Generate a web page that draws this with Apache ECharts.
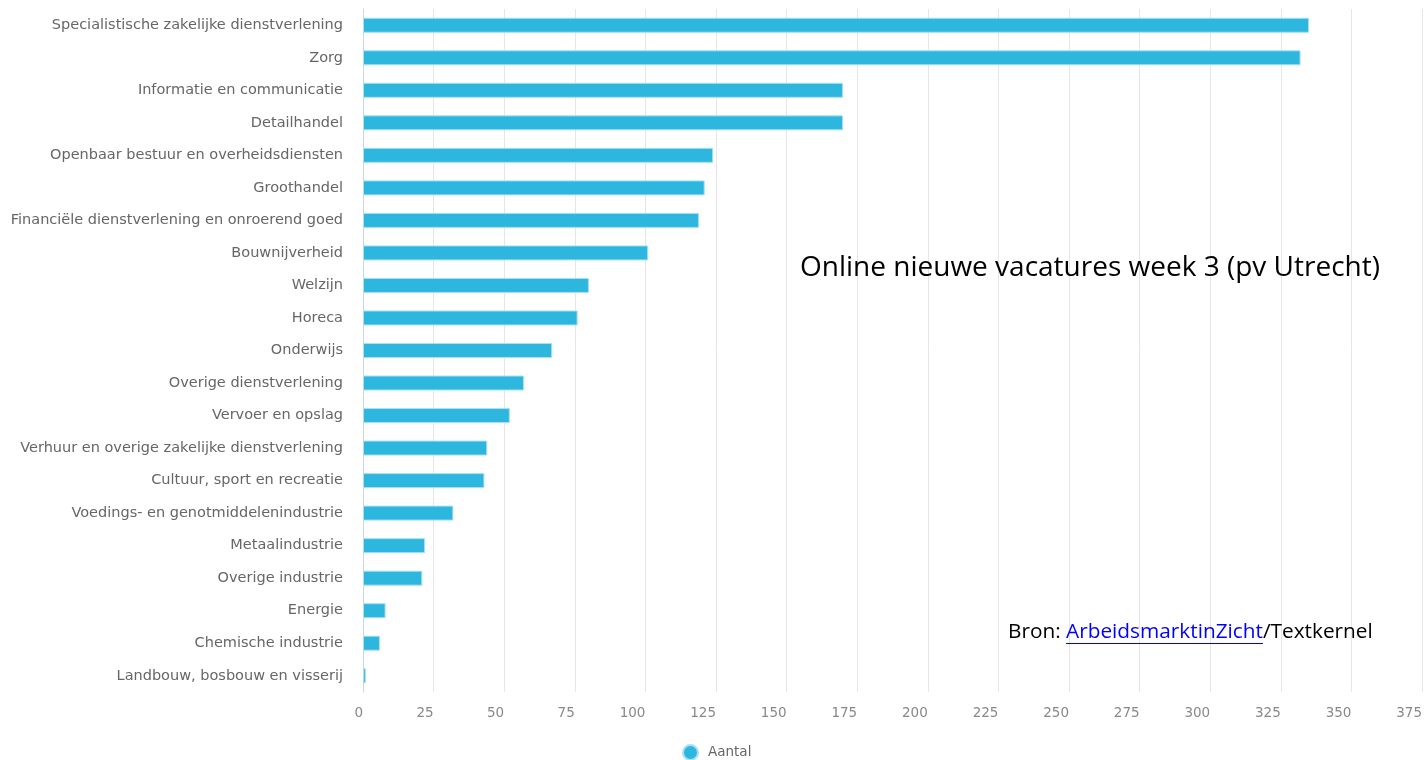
<!DOCTYPE html>
<html>
<head>
<meta charset="utf-8">
<script src="https://cdn.jsdelivr.net/npm/echarts@6/dist/echarts.min.js"></script>
<style>
html,body{margin:0;padding:0;background:#fff;}
#chart{width:1425px;height:760px;}
</style>
</head>
<body>
<div id="chart"></div>
<script>
const categories = [
  "Specialistische zakelijke dienstverlening",
  "Zorg",
  "Informatie en communicatie",
  "Detailhandel",
  "Openbaar bestuur en overheidsdiensten",
  "Groothandel",
  "Financiële dienstverlening en onroerend goed",
  "Bouwnijverheid",
  "Welzijn",
  "Horeca",
  "Onderwijs",
  "Overige dienstverlening",
  "Vervoer en opslag",
  "Verhuur en overige zakelijke dienstverlening",
  "Cultuur, sport en recreatie",
  "Voedings- en genotmiddelenindustrie",
  "Metaalindustrie",
  "Overige industrie",
  "Energie",
  "Chemische industrie",
  "Landbouw, bosbouw en visserij"
];
const aantal = [335, 332, 170, 170, 124, 121, 119, 101, 80, 76, 67, 57, 52, 44, 43, 32, 22, 21, 8, 6, 1];
const seriesName = "Aantal";
const titleText = "Online nieuwe vacatures week 3 (pv Utrecht)";
const sourcePrefix = "Bron: ";
const sourceLink = "ArbeidsmarktinZicht";
const sourceSuffix = "/Textkernel";

const labelFont = "'DejaVu Sans', sans-serif";
const noteFamily = "'Open Sans', 'Noto Sans', sans-serif";
const noteSize = 20.8;
const noteFont = noteSize + "px " + noteFamily;

// measure pieces of the source note for placement
const cv = document.createElement('canvas').getContext('2d');
cv.font = noteFont;
const wPrefix = cv.measureText(sourcePrefix).width;
const wLink = cv.measureText(sourceLink).width;
const srcX = 1008, srcY = 622;

const chart = echarts.init(document.getElementById('chart'), null, {renderer: 'canvas'});
chart.setOption({
  animation: false,
  grid: {left: 363, right: 2, top: 9, bottom: 68, containLabel: false},
  legend: {
    data: [seriesName],
    top: 739,
    left: 677,
    icon: 'circle',
    itemWidth: 15,
    itemHeight: 15,
    itemGap: 8,
    textStyle: {color: '#666', fontSize: 13.5, fontFamily: labelFont, padding: [0, 0, 0, 5]}
  },
  xAxis: {
    type: 'value',
    min: 0,
    max: 375,
    interval: 25,
    axisLine: {show: false},
    axisTick: {show: false},
    splitLine: {show: true, lineStyle: {color: '#e6e6e6', width: 1}},
    axisLabel: {
      color: '#888',
      fontSize: 13.5,
      fontFamily: labelFont,
      align: 'right',
      margin: 14
    }
  },
  yAxis: {
    type: 'category',
    data: categories,
    inverse: true,
    axisLine: {show: true, lineStyle: {color: '#ccd6eb'}},
    axisTick: {show: false},
    splitLine: {show: false},
    axisLabel: {
      color: '#666',
      fontSize: 14.5,
      fontFamily: labelFont,
      margin: 20
    }
  },
  series: [{
    name: seriesName,
    type: 'bar',
    data: aantal,
    barWidth: 15,
    itemStyle: {color: '#2db7df', borderColor: '#a9e0f2', borderWidth: 1}
  }],
  graphic: [
    {
      type: 'text',
      left: 800,
      top: 254,
      z: 100,
      style: {
        text: titleText,
        fill: '#000',
        font: "28px " + noteFamily
      }
    },
    {
      type: 'text', left: srcX, top: srcY, z: 100,
      style: {text: sourcePrefix, fill: '#000', font: noteFont}
    },
    {
      type: 'text', left: srcX + wPrefix, top: srcY, z: 100,
      style: {text: sourceLink, fill: '#0000ff', font: noteFont}
    },
    {
      type: 'text', left: srcX + wPrefix + wLink, top: srcY, z: 100,
      style: {text: sourceSuffix, fill: '#000', font: noteFont}
    },
    {
      type: 'line', z: 100,
      shape: {x1: srcX + wPrefix, y1: srcY + 21.5, x2: srcX + wPrefix + wLink, y2: srcY + 21.5},
      style: {stroke: '#0000ff', lineWidth: 1}
    }
  ]
});
</script>
</body>
</html>
